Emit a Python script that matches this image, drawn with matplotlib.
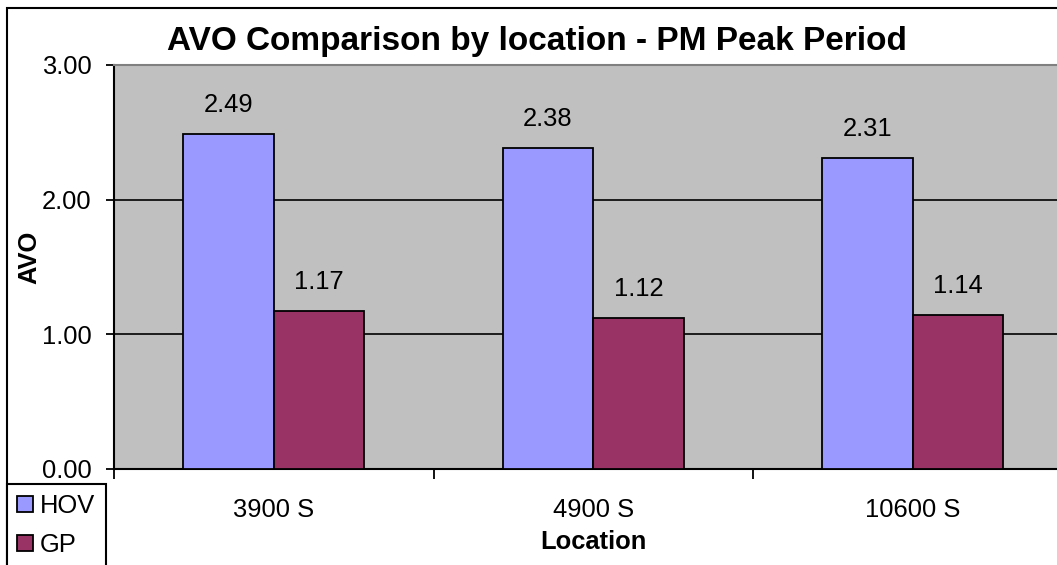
import matplotlib
matplotlib.use('Agg')
import matplotlib.pyplot as plt
from matplotlib.patches import Patch, Rectangle
import numpy as np

locais = ['3900 S', '4900 S', '10600 S']
hov = [2.49, 2.38, 2.31]
gp = [1.17, 1.12, 1.14]
series = ['HOV', 'GP']
y_ticks = [0.0, 1.0, 2.0, 3.0]

COR_HOV = '#9999FF'
COR_GP = '#993366'
FUNDO = '#C0C0C0'
FONTE = 'Liberation Sans'
TAM = 18.4
W, H = 1057, 565


def px(x, y):
    # converte pixels da imagem para coordenadas da figura
    return x / W, 1 - y / H


def plota_grafico():
    plt.rcParams['font.family'] = [FONTE, 'DejaVu Sans']
    fig = plt.figure(figsize=(W / 100, H / 100), dpi=100)
    left, top = px(114, 65)
    _, bottom = px(0, 469)
    ax = fig.add_axes([left, bottom, (1072.5 - 114) / W, top - bottom])
    ax.set_facecolor(FUNDO)

    pos = np.arange(len(locais)) + 0.5
    larg = 0.283
    b1 = ax.bar(pos - larg / 2, hov, larg, color=COR_HOV, edgecolor='black', linewidth=1.3, zorder=3)
    b2 = ax.bar(pos + larg / 2, gp, larg, color=COR_GP, edgecolor='black', linewidth=1.3, zorder=3)
    for barras in (b1, b2):
        for b in barras:
            ax.annotate('%.2f' % b.get_height(), (b.get_x() + b.get_width() / 2, b.get_height()),
                        xytext=(0, 21), textcoords='offset points', ha='center', va='center',
                        fontsize=TAM)

    ax.set_xlim(0, len(locais))
    ax.set_ylim(0, 3)
    ax.set_yticks(y_ticks)
    ax.set_yticklabels(['%.2f' % v for v in y_ticks], fontsize=TAM)
    ax.tick_params(axis='y', length=6, width=1.3, pad=10, direction='out')
    ax.set_xticks(np.arange(len(locais) + 1))
    ax.set_xticklabels([])
    ax.tick_params(axis='x', which='major', length=7, width=1.3, direction='out')
    ax.set_xticks(pos, minor=True)
    ax.set_xticklabels(locais, minor=True, fontsize=TAM)
    ax.tick_params(axis='x', which='minor', length=0, pad=21)

    for v in y_ticks[1:3]:
        ax.axhline(v, color='black', linewidth=1.2, zorder=1)

    ax.spines['left'].set_linewidth(1.5)
    ax.spines['bottom'].set_linewidth(1.5)
    ax.spines['top'].set_color('#808080')
    ax.spines['top'].set_linewidth(1.5)
    ax.spines['right'].set_visible(False)

    fig.text(*px(537, 50), 'AVO Comparison by location - PM Peak Period', ha='center',
             va='baseline', fontsize=24, fontweight='bold')
    fig.text(*px(29, 257), 'AVO', rotation=90, ha='center', va='center', fontsize=TAM,
             fontweight='bold')
    fig.text(*px(593, 542), 'Location', ha='center', va='center', fontsize=TAM, fontweight='bold')

    # borda externa do grafico
    x0, y0 = px(7, 8)
    fig.add_artist(Rectangle((x0, -0.1), 1.2, y0 + 0.1, transform=fig.transFigure,
                             fill=False, edgecolor='black', linewidth=1.5, clip_on=False))

    alcas = [Patch(facecolor=COR_HOV, edgecolor='black', linewidth=1.3),
             Patch(facecolor=COR_GP, edgecolor='black', linewidth=1.3)]
    leg = fig.legend(alcas, series, loc='upper left', bbox_to_anchor=px(7, 484),
                     fontsize=TAM, fancybox=False, framealpha=1, edgecolor='black',
                     handlelength=0.6, handleheight=0.6, handletextpad=0.3,
                     labelspacing=0.58, borderpad=0.4, borderaxespad=0)
    leg.get_frame().set_linewidth(1.5)

    fig.savefig('out.png', dpi=100)


if __name__ == "__main__":
    plota_grafico()
